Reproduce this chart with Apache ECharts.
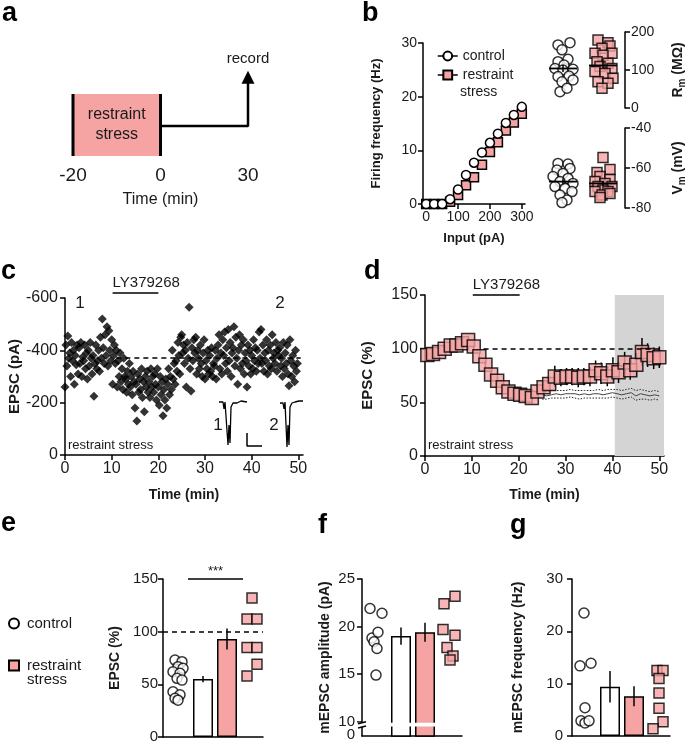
<!DOCTYPE html>
<html>
<head>
<meta charset="utf-8">
<script src="https://cdn.jsdelivr.net/npm/echarts@6/dist/echarts.min.js"></script>
<style>
  html, body { margin: 0; padding: 0; background: #fff; }
  #main { width: 687px; height: 747px; }
</style>
</head>
<body>
<div id="main"></div>
<script>
const FONT = '"Liberation Sans", Arial, sans-serif';
const PINK = '#f5a3a3';
const INK = '#1a1a1a';

// ---- a: timeline
const timelineTicks = ['-20', '0', '30'];

// ---- b: firing frequency vs input current
const inputPA = [0, 25, 50, 75, 100, 125, 150, 175, 200, 225, 250, 275, 300];
const firingControl = [0, 0, 0, 0.9, 2.7, 5.4, 7.7, 9.6, 11.4, 13.1, 15.1, 16.6, 18.1];
const firingStress = [0, 0, 0, 0.4, 1.7, 3.5, 5.0, 7.3, 9.7, 11.5, 13.7, 15.2, 16.8];

// membrane resistance (MOhm) and potential (mV), per cell
const rmControl = [166, 172, 153, 122, 128, 113, 104, 100, 102, 83, 84, 69, 74, 43, 52];
const rmControlJit = [-5, 7, -1, -5, 5, 1, -8, 0, 10, -5, 6, -1, 10, -3, 4];
const rmStress = [179, 172, 163, 157, 144, 144, 139, 122, 118, 109, 104, 96, 91, 78, 69, 65, 52];
const rmStressJit = [-5, 5, 7, -1, -8, 9, 0, -6, 5, -3, 9, -8, 2, 10, -5, 5, -1];
const rmMean = [104, 112];
const rmSem = [9, 9];
const vmControl = [-57.7, -58, -61, -60.2, -62.7, -64.3, -65.2, -66.8, -67.7, -69.3, -70.2, -71.8, -73.5, -76, -77.3];
const vmControlJit = [-5, 5, -6, 7, 0, -10, 5, -3, 10, -8, 2, 9, -3, 4, -1];
const vmStress = [-54.7, -62.3, -60.7, -64.3, -65.7, -66.8, -67.7, -69.3, -69.3, -71, -71.8, -71.8, -73.5, -72.7, -74.7];
const vmStressJit = [0, -6, 7, -3, 7, -8, 2, -5, 9, 0, -8, 5, -1, 7, -3];
const vmMean = [-66.8, -67.7];
const vmSem = [1.5, 1.2];

// ---- c: EPSC amplitude of one cell (pA), one sample every 0.2 min
const epscStepC = 0.2;
const epscC = [
  -260, -420, -340, -455, -370,  -390, -300, -430, -360, -400,
  -270, -380, -345, -420, -310,  -410, -350, -430, -300, -375,
  -360, -420, -330, -390, -290,  -400, -340, -430, -370, -310,
  -380, -225, -350, -420, -330,  -360, -400, -320, -450, -370,
  -520, -410, -350, -460, -380,  -490, -340, -475, -400, -360,
  -440, -270, -380, -420, -350,  -400, -260, -360, -300, -390,
  -280, -330, -250, -370, -300,  -290, -240, -320, -270, -350,
  -260, -300, -230, -320, -280,  -180, -270, -130, -310, -240,
  -290, -250, -330, -220, -280,  -165, -300, -260, -320, -240,
  -280, -220, -330, -260, -300,  -240, -310, -270, -210, -330,
  -260, -190, -300, -230, -280,  -150, -250, -210, -290, -180,
  -270, -330, -230, -300, -250,  -400, -290, -350, -270, -360,
  -320, -430, -380, -310, -450,  -460, -390, -420, -350, -400,
  -260, -430, -370, -565, -330,  -245, -410, -360, -440, -390,
  -450, -310, -400, -370, -330,  -420, -350, -300, -390, -440,
  -290, -360, -330, -400, -310,  -380, -320, -410, -300, -350,
  -340, -400, -290, -370, -420,  -460, -330, -390, -310, -440,
  -380, -470, -350, -410, -320,  -480, -360, -430, -300, -390,
  -410, -490, -340, -450, -370,  -270, -400, -460, -330, -420,
  -350, -440, -310, -390, -360,  -260, -420, -340, -400, -310,
  -380, -330, -440, -360, -410,  -320, -400, -350, -470, -370,
  -480, -350, -420, -320, -390,  -360, -440, -310, -400, -340,
  -420, -330, -460, -370, -390,  -350, -430, -320, -400, -380,
  -410, -340, -370, -300, -430,  -330, -390, -350, -420, -310,
  -265, -440, -360, -300, -380,  -340, -280, -400, -320, -350
];
const cBaseline = -370;
const cBaselineSpan = [11, 50.5];
const drugWindowC = [10.2, 20];
// example traces (inset, arbitrary units) and scale bar
const trace1 = [[4, -7], [8, -7], [9, -14], [10, -7], [12, -7], [13, -50], [14, -30], [15, -48], [16, -12], [18, -8], [22, -8], [24, -10], [26, -6], [28, -7], [32, -7]];
const trace2 = [[65, -8], [68, -8], [69, -14], [70, -7], [71, -8], [72, -52], [73, -30], [74, -50], [75, -12], [77, -8], [80, -7], [84, -6], [88, -6]];
const scaleBar = [[32, -38], [32, -51], [47, -51]];

// ---- d: normalised EPSC (%), restraint stress group
const timeD = [0.5, 1.7, 3.0, 4.2, 5.5, 6.7, 7.9, 9.2, 10.4, 11.6, 12.9, 14.1, 15.4, 16.6, 17.8, 19.1, 20.3, 21.5, 22.8, 24.0,
  25.3, 26.5, 27.7, 29.0, 30.2, 31.4, 32.7, 33.9, 35.2, 36.4, 37.6, 38.9, 40.1, 41.3, 42.6, 43.8, 45.1, 46.3, 47.5, 48.8, 50.0];
const epscD = [94, 95, 97, 100, 103, 103, 105, 108, 102, 93, 85, 76, 70, 64, 60, 58, 57, 56, 54, 60,
  64, 67, 74, 73, 74, 74, 73, 74, 74, 80, 77, 74, 80, 78, 87, 80, 85, 97, 94, 91, 92];
const semD = [3, 3, 3, 3, 3, 3, 4, 4, 4, 4, 4, 4, 4, 4, 4, 4, 4, 4, 5, 5,
  5, 6, 10, 8, 8, 8, 9, 8, 9, 9, 10, 9, 12, 10, 10, 9, 11, 13, 11, 10, 10];
const ctrlTimeD = [25, 26, 27, 28, 29, 30, 31, 32, 33, 34, 35, 36, 37, 38, 39, 40, 41, 42, 43, 44, 45, 46, 47, 48, 49, 50];
const ctrlMeanD = [57, 56, 57, 58, 57, 58, 58, 58, 57, 58, 57, 58, 58, 57, 58, 59, 58, 57, 58, 59, 56, 58, 57, 56, 57, 56];
const ctrlUpperD = [60, 60, 61, 61, 61, 61, 62, 61, 61, 61, 61, 61, 62, 61, 62, 62, 62, 61, 62, 63, 61, 62, 61, 60, 61, 60];
const ctrlLowerD = [53, 53, 54, 54, 54, 54, 55, 54, 53, 54, 54, 54, 54, 54, 54, 55, 54, 53, 54, 55, 52, 53, 53, 52, 53, 52];
const drugWindowD = [10.2, 20.2];
const dBaselineSpan = [12.5, 50];
const analysisWindow = [40.5, 51];

// ---- e: EPSC (%) at 40-50 min
const eControl = [73, 71.5, 66.8, 65.2, 62, 60.5, 55.7, 54, 43, 40, 36.7, 35];
const eControlJit = [-5, 2, -2, 3, -7, 0, -3, 2, -7, 0, -5, -2];
const eStress = [132, 112, 112, 85, 85, 69, 58];
const eStressJit = [0, -5, 5, -5, 5, 5, -5];
const eMean = [55, 93];
const eSem = [3, 10];

// ---- f: mEPSC amplitude (pA)
const fControl = [21.9, 21.4, 18.8, 19.4, 18.4, 17.7, 14.9];
const fControlJit = [-6, 6, -4, 2, -2, 1, 0];
const fStress = [22.4, 23.2, 19.7, 19.1, 17.8, 16.9, 16.5];
const fStressJit = [-6, 5, -7, 5, -3, 3, 0];
const fMean = [19.0, 19.4];
const fSem = [0.9, 1.0];

// ---- g: mEPSC frequency (Hz)
const gControl = [23.5, 13.4, 13.9, 5.4, 2.9, 2.5, 2.9];
const gControlJit = [-1, -5, 6, 0, -4, 0, 4];
const gStress = [12.5, 12.5, 11, 8.2, 5.3, 2.7, 1.4];
const gStressJit = [-2, 4, 0, 0, 0, 4, -6];
const gMean = [9.4, 7.6];
const gSem = [3.0, 1.9];

// ------------------------------------------------------------------
const chart = echarts.init(document.getElementById('main'));

function axis(gridIndex, o) {
  const a = {
    type: o.type || 'value', gridIndex, min: o.min, max: o.max, inverse: !!o.inverse,
    position: o.position, interval: o.interval, data: o.data, boundaryGap: o.boundaryGap,
    name: o.name || '', nameLocation: 'middle', nameGap: o.nameGap || 30, nameRotate: o.nameRotate,
    nameTextStyle: Object.assign({ color: INK, fontSize: o.nameSize || 14, fontWeight: o.nameWeight || 'bold', fontFamily: FONT }, o.nameStyle || {}),
    axisLine: { show: o.line !== false, onZero: false, lineStyle: { color: '#000', width: 1.5 } },
    axisTick: { show: o.tick !== undefined ? o.tick : o.line !== false, length: 5, lineStyle: { color: '#000', width: 1.5 } },
    axisLabel: { show: o.labels !== false, color: INK, fontSize: o.fontSize || 15, fontFamily: FONT, margin: o.margin || 6,
      showMinLabel: true, showMaxLabel: true },
    splitLine: { show: false },
    show: o.show !== false
  };
  if (o.ticks) { a.axisLabel.customValues = o.ticks; a.axisTick.customValues = o.ticks; }
  if (o.formatter) a.axisLabel.formatter = o.formatter;
  return a;
}

function errorBars(idx, data, z) {
  return {
    type: 'custom', xAxisIndex: idx, yAxisIndex: idx, z: z || 2, silent: true,
    encode: { x: 0, y: 1 },
    renderItem: (params, api) => {
      const x = api.value(0), y = api.value(1), e = api.value(2);
      const p1 = api.coord([x, y + e]), p2 = api.coord([x, y - e]);
      return { type: 'line', shape: { x1: p1[0], y1: p1[1], x2: p2[0], y2: p2[1] }, style: { stroke: '#000', lineWidth: 1.5 } };
    },
    data
  };
}

function meanBars(idx, data) {
  return {
    type: 'custom', xAxisIndex: idx, yAxisIndex: idx, z: 6, silent: true,
    encode: { x: 0, y: 1 },
    renderItem: (params, api) => {
      const x = api.value(0), m = api.value(1), s = api.value(2);
      const c = api.coord([x, m]), t = api.coord([x, m + s]), b = api.coord([x, m - s]);
      return { type: 'group', children: [
        { type: 'line', shape: { x1: c[0] - 14, y1: c[1], x2: c[0] + 14, y2: c[1] }, style: { stroke: '#000', lineWidth: 1.8 } },
        { type: 'line', shape: { x1: c[0], y1: t[1], x2: c[0], y2: b[1] }, style: { stroke: '#000', lineWidth: 1.5 } }
      ] };
    },
    data
  };
}

const ctrlStyle = { color: '#fff', borderColor: '#000', borderWidth: 1.5 };
const stressStyle = { color: PINK, borderColor: '#000', borderWidth: 1.5 };

function jittered(values, jit, center) {
  return values.map((v, i) => [center + jit[i], v]);
}

function barPanel(idx, slots, ctrl, ctrlJit, stress, stressJit, mean, sem, extra) {
  return [
    Object.assign({
      type: 'bar', xAxisIndex: idx, yAxisIndex: idx, barWidth: 20, z: 3, silent: true,
      itemStyle: { borderColor: '#000', borderWidth: 1.5 },
      data: [
        { value: [slots[1], mean[0]], itemStyle: { color: '#fff' } },
        { value: [slots[2], mean[1]], itemStyle: { color: PINK } }
      ]
    }, extra || {}),
    errorBars(idx, [[slots[1], mean[0], sem[0]], [slots[2], mean[1], sem[1]]], 4),
    { name: 'control', type: 'scatter', xAxisIndex: idx, yAxisIndex: idx, symbol: 'circle', symbolSize: 10, z: 5,
      itemStyle: ctrlStyle, data: jittered(ctrl, ctrlJit, slots[0]) },
    { name: 'restraint stress', type: 'scatter', xAxisIndex: idx, yAxisIndex: idx, symbol: 'rect', symbolSize: 10, z: 5,
      itemStyle: stressStyle, data: jittered(stress, stressJit, slots[3]) }
  ];
}

const SLOT_E = [17, 40, 64, 89];
const SLOT_F = [14, 39, 63, 88];
const SLOT_G = [13, 38, 62, 87];
const COL_CTRL = 18, COL_STRESS = 58;

const option = {
  animation: false,
  textStyle: { fontFamily: FONT },
  legend: [
    { left: 432, top: 44, orient: 'vertical', itemGap: 5, itemWidth: 20, itemHeight: 11, selectedMode: false,
      lineStyle: { color: '#000', width: 1.5, opacity: 1 },
      formatter: n => n === 'restraint stress' ? 'restraint' : n,
      textStyle: { fontSize: 14, color: INK, fontFamily: FONT },
      data: ['control', 'restraint stress'] },
    { left: 3, top: 611, orient: 'vertical', itemGap: 27, itemWidth: 10, itemHeight: 10, selectedMode: false,
      formatter: n => n === 'restraint stress' ? 'restraint' : n,
      textStyle: { fontSize: 15, color: INK, fontFamily: FONT, padding: [0, 0, 0, 3] },
      data: [{ name: 'control', icon: 'circle' }, { name: 'restraint stress', icon: 'rect' }] }
  ],
  grid: [
    { left: 73, top: 60, width: 175, height: 96, outerBoundsMode: 'none' },   // a
    { left: 423, top: 43, width: 102, height: 161, outerBoundsMode: 'none' }, // b
    { left: 545, top: 32, width: 80, height: 76, outerBoundsMode: 'none' },   // b Rm
    { left: 545, top: 128, width: 80, height: 80, outerBoundsMode: 'none' },  // b Vm
    { left: 65, top: 298, width: 238, height: 157, outerBoundsMode: 'none' }, // c
    { left: 215, top: 395, width: 95, height: 55, outerBoundsMode: 'none' },  // c traces
    { left: 425, top: 295, width: 239, height: 161, outerBoundsMode: 'none' },// d
    { left: 163, top: 579, width: 100, height: 158, outerBoundsMode: 'none' },// e
    { left: 362, top: 579, width: 100, height: 157, outerBoundsMode: 'none' },// f
    { left: 572, top: 579, width: 98, height: 157, outerBoundsMode: 'none' }  // g
  ],
  xAxis: [
    axis(0, { type: 'category', data: timelineTicks, boundaryGap: false, line: false, fontSize: 19, margin: 10,
      name: 'Time (min)', nameGap: 36, nameSize: 16, nameWeight: 'normal' }),
    axis(1, { min: -10, max: 310, ticks: [0, 100, 200, 300], fontSize: 14, name: 'Input (pA)', nameGap: 28, nameSize: 13 }),
    axis(2, { min: 0, max: 80, show: false }),
    axis(3, { min: 0, max: 80, show: false }),
    axis(4, { min: 0, max: 51, ticks: [0, 10, 20, 30, 40, 50], fontSize: 16, name: 'Time (min)', nameGap: 33 }),
    axis(5, { min: 0, max: 95, show: false }),
    axis(6, { min: 0, max: 51, ticks: [0, 10, 20, 30, 40, 50], fontSize: 16, name: 'Time (min)', nameGap: 32 }),
    axis(7, { min: 0, max: 100, tick: false, labels: false }),
    axis(8, { min: 0, max: 100, tick: false, labels: false }),
    axis(9, { min: 0, max: 98, tick: false, labels: false })
  ],
  yAxis: [
    axis(0, { min: 0, max: 1, show: false }),
    axis(1, { min: 0, max: 30, interval: 10, fontSize: 14, name: 'Firing frequency (Hz)', nameGap: 40, nameSize: 13 }),
    axis(2, { min: 0, max: 200, interval: 100, position: 'right', fontSize: 14, nameRotate: 90, nameGap: 44,
      name: 'R{s|m} (MΩ)', nameStyle: { rich: { s: { fontSize: 10, fontWeight: 'bold', padding: [8, 0, 0, 0] } } } }),
    axis(3, { min: -80, max: -40, interval: 20, position: 'right', fontSize: 14, nameRotate: 90, nameGap: 44,
      name: 'V{s|m} (mV)', nameStyle: { rich: { s: { fontSize: 10, fontWeight: 'bold', padding: [8, 0, 0, 0] } } } }),
    axis(4, { min: -600, max: 0, interval: 200, inverse: true, fontSize: 16, margin: 7, name: 'EPSC (pA)', nameGap: 41, nameSize: 15 }),
    axis(5, { min: -55, max: 0, show: false }),
    axis(6, { min: 0, max: 150, interval: 50, fontSize: 16, margin: 7, name: 'EPSC (%)', nameGap: 50, nameSize: 15 }),
    axis(7, { min: 0, max: 150, interval: 50, fontSize: 15, margin: 5, name: 'EPSC (%)', nameGap: 41, nameSize: 14 }),
    axis(8, { min: 8.5, max: 25, ticks: [10, 15, 20, 25],
      fontSize: 15, margin: 7, name: 'mEPSC amplitude (pA)', nameGap: 30, nameSize: 14 }),
    axis(9, { min: 0, max: 30, interval: 10, fontSize: 15, margin: 9, name: 'mEPSC frequency (Hz)', nameGap: 47, nameSize: 14 })
  ],
  series: [
    // a: timeline schematic
    { type: 'line', xAxisIndex: 0, yAxisIndex: 0, symbol: 'none', z: 4, silent: true,
      lineStyle: { color: '#000', width: 3 },
      data: [[timelineTicks[0], 0], [timelineTicks[0], 0.646]],
      markArea: { silent: true, itemStyle: { color: PINK },
        label: { show: true, position: 'inside', color: INK, fontSize: 16, lineHeight: 20, fontFamily: FONT, formatter: 'restraint\nstress' },
        data: [[{ coord: [timelineTicks[0], 0] }, { coord: [timelineTicks[1], 0.646] }]] } },
    { type: 'line', xAxisIndex: 0, yAxisIndex: 0, symbol: 'none', z: 4, silent: true,
      lineStyle: { color: '#000', width: 3 },
      data: [[timelineTicks[1], 0], [timelineTicks[1], 0.646]] },
    { type: 'line', xAxisIndex: 0, yAxisIndex: 0, symbol: 'none', z: 4, silent: true,
      lineStyle: { color: '#000', width: 2.5 },
      data: [[timelineTicks[1], 0.3125], [timelineTicks[2], 0.3125],
        { value: [timelineTicks[2], 0.82], symbol: 'triangle', symbolSize: [13, 13], itemStyle: { color: '#000' },
          label: { show: true, position: 'top', distance: 4, formatter: 'record', fontSize: 15, color: INK, fontFamily: FONT } }] },

    // b: f-I curve
    { name: 'restraint stress', type: 'line', xAxisIndex: 1, yAxisIndex: 1, symbol: 'rect', symbolSize: 9, z: 3,
      lineStyle: { width: 0 }, itemStyle: stressStyle,
      data: inputPA.map((x, i) => [x, firingStress[i]]) },
    { name: 'control', type: 'line', xAxisIndex: 1, yAxisIndex: 1, symbol: 'circle', symbolSize: 9, z: 4,
      lineStyle: { width: 0 }, itemStyle: ctrlStyle,
      data: inputPA.map((x, i) => [x, firingControl[i]]) },
    // b: Rm
    { name: 'control', type: 'scatter', xAxisIndex: 2, yAxisIndex: 2, symbol: 'circle', symbolSize: 10, itemStyle: ctrlStyle,
      data: jittered(rmControl, rmControlJit, COL_CTRL) },
    { name: 'restraint stress', type: 'scatter', xAxisIndex: 2, yAxisIndex: 2, symbol: 'rect', symbolSize: 10, itemStyle: stressStyle,
      data: jittered(rmStress, rmStressJit, COL_STRESS) },
    meanBars(2, [[COL_CTRL, rmMean[0], rmSem[0]], [COL_STRESS, rmMean[1], rmSem[1]]]),
    // b: Vm
    { name: 'control', type: 'scatter', xAxisIndex: 3, yAxisIndex: 3, symbol: 'circle', symbolSize: 10, itemStyle: ctrlStyle,
      data: jittered(vmControl, vmControlJit, COL_CTRL) },
    { name: 'restraint stress', type: 'scatter', xAxisIndex: 3, yAxisIndex: 3, symbol: 'rect', symbolSize: 10, itemStyle: stressStyle,
      data: jittered(vmStress, vmStressJit, COL_STRESS) },
    meanBars(3, [[COL_CTRL, vmMean[0], vmSem[0]], [COL_STRESS, vmMean[1], vmSem[1]]]),

    // c: single cell time course
    { type: 'scatter', xAxisIndex: 4, yAxisIndex: 4, symbol: 'diamond', symbolSize: 9, silent: true,
      itemStyle: { color: '#000' },
      data: epscC.map((v, i) => [i * epscStepC, v]),
      markLine: { silent: true, symbol: 'none', lineStyle: { color: '#000', type: [5, 4], width: 1.5 }, label: { show: false },
        data: [[{ coord: [cBaselineSpan[0], cBaseline] }, { coord: [cBaselineSpan[1], cBaseline] }]] } },
    { type: 'line', xAxisIndex: 5, yAxisIndex: 5, symbol: 'none', silent: true, lineStyle: { color: '#000', width: 1.3 }, data: trace1 },
    { type: 'line', xAxisIndex: 5, yAxisIndex: 5, symbol: 'none', silent: true, lineStyle: { color: '#000', width: 1.3 }, data: trace2 },
    { type: 'line', xAxisIndex: 5, yAxisIndex: 5, symbol: 'none', silent: true, lineStyle: { color: '#000', width: 1.5 }, data: scaleBar },

    // d: group time course
    { type: 'line', xAxisIndex: 6, yAxisIndex: 6, symbol: 'none', silent: true, z: 1,
      lineStyle: { color: '#444', width: 1 },
      data: ctrlTimeD.map((t, i) => [t, ctrlMeanD[i]]),
      markArea: { silent: true, itemStyle: { color: '#d4d4d4' },
        data: [[{ coord: [analysisWindow[0], 0] }, { coord: [analysisWindow[1], 150] }]] },
      markLine: { silent: true, symbol: 'none', lineStyle: { color: '#000', type: [5, 4], width: 1.5 }, label: { show: false },
        data: [[{ coord: [dBaselineSpan[0], 100] }, { coord: [dBaselineSpan[1], 100] }]] } },
    { type: 'line', xAxisIndex: 6, yAxisIndex: 6, symbol: 'none', silent: true, z: 1,
      lineStyle: { color: '#222', width: 1, type: [1.5, 1.5] }, data: ctrlTimeD.map((t, i) => [t, ctrlUpperD[i]]) },
    { type: 'line', xAxisIndex: 6, yAxisIndex: 6, symbol: 'none', silent: true, z: 1,
      lineStyle: { color: '#222', width: 1, type: [1.5, 1.5] }, data: ctrlTimeD.map((t, i) => [t, ctrlLowerD[i]]) },
    errorBars(6, timeD.map((t, i) => [t, epscD[i], semD[i]]), 2),
    { type: 'scatter', xAxisIndex: 6, yAxisIndex: 6, symbol: 'rect', symbolSize: 13, z: 3, silent: true,
      itemStyle: stressStyle, data: timeD.map((t, i) => [t, epscD[i]]) },

    // e, f, g: bar + dot plots
    ...barPanel(7, SLOT_E, eControl, eControlJit, eStress, eStressJit, eMean, eSem, {
      markLine: { silent: true, symbol: 'none', lineStyle: { color: '#000', type: [5, 4], width: 1.5 }, label: { show: false },
        data: [{ yAxis: 100 }] } }),
    ...barPanel(8, SLOT_F, fControl, fControlJit, fStress, fStressJit, fMean, fSem),
    ...barPanel(9, SLOT_G, gControl, gControlJit, gStress, gStressJit, gMean, gSem)
  ]
};

chart.setOption(option);

// annotations positioned through the chart's own scales
const px = (g, v) => chart.convertToPixel({ gridIndex: g }, v);
const txt = (x, y, text, size, extra) => ({ type: 'text', x, y, silent: true,
  style: Object.assign({ text, fill: INK, font: (size || 15) + 'px ' + FONT, align: 'left', verticalAlign: 'middle' }, extra || {}) });
const seg = (a, b, w) => ({ type: 'line', silent: true, shape: { x1: a[0], y1: a[1], x2: b[0], y2: b[1] }, style: { stroke: '#000', lineWidth: w || 1.5 } });
const letter = (x, y, t) => ({ type: 'text', x, y, silent: true, style: { text: t, fill: '#000', font: 'bold 27px ' + FONT, align: 'left', verticalAlign: 'top' } });

const lyC0 = px(4, [drugWindowC[0], -600]), lyC1 = px(4, [drugWindowC[1], -600]);
const lyD0 = px(6, [drugWindowD[0], 150]), lyD1 = px(6, [drugWindowD[1], 150]);
const sigE0 = px(7, [SLOT_E[0] + 8, 150]), sigE1 = px(7, [SLOT_E[3] - 9, 150]);
const brkL = px(8, [27, 9.9]), brkR = px(8, [75, 9.5]);
const axTop = px(8, [0, 9.9]), axBot = px(8, [0, 9.45]);
const zeroF = px(8, [0, 8.5]);

chart.setOption({
  graphic: [
    letter(2, 0, 'a'), letter(362, 0, 'b'), letter(1, 258, 'c'), letter(364, 258, 'd'),
    letter(1, 510, 'e'), letter(318, 512, 'f'), letter(510, 512, 'g'),
    txt(460, 92, 'stress', 14),
    txt(27, 680, 'stress', 15),
    // c
    seg([lyC0[0], lyC0[1] - 5], [lyC1[0], lyC1[1] - 5]),
    txt(lyC0[0], lyC0[1] - 15, 'LY379268', 15),
    txt(80, 303, '1', 17, { align: 'center' }),
    txt(280, 303, '2', 17, { align: 'center' }),
    txt(218, 425, '1', 17, { align: 'center' }),
    txt(274, 425, '2', 17, { align: 'center' }),
    txt(68, 445, 'restraint stress', 13),
    // d
    seg([lyD0[0], lyD0[1]], [lyD1[0], lyD1[1]]),
    txt(lyD0[0], lyD0[1] - 10, 'LY379268', 15),
    txt(428, 445, 'restraint stress', 13),
    // e
    seg(sigE0, sigE1),
    txt((sigE0[0] + sigE1[0]) / 2, sigE0[1] - 8, '***', 13, { align: 'center' }),
    // f: axis break and the '0' at the foot of the broken axis
    { type: 'rect', silent: true, z: 100, shape: { x: brkL[0], y: brkL[1], width: brkR[0] - brkL[0], height: brkR[1] - brkL[1] }, style: { fill: '#fff' } },
    { type: 'rect', silent: true, z: 100, shape: { x: axTop[0] - 5, y: axTop[1], width: 10, height: axBot[1] - axTop[1] }, style: { fill: '#fff' } },
    Object.assign(seg([axTop[0] - 4, axTop[1] + 1], [axTop[0] + 4, axTop[1] - 1]), { z: 101 }),
    Object.assign(seg([axBot[0] - 4, axBot[1] + 1], [axBot[0] + 4, axBot[1] - 1]), { z: 101 }),
    txt(zeroF[0] - 7, zeroF[1] - 1, '0', 15, { align: 'right' })
  ]
});
</script>
</body>
</html>
